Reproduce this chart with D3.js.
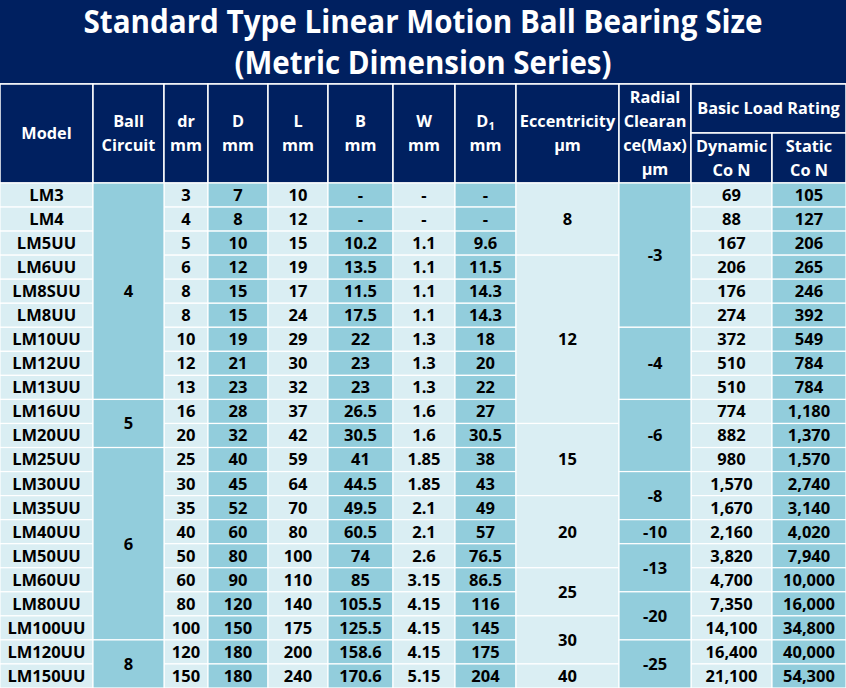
<!DOCTYPE html>
<html>
<head>
<meta charset="utf-8">
<script src="https://cdn.jsdelivr.net/npm/d3@7"></script>
<style>
  html, body { margin: 0; padding: 0; background: #fff; }
  svg { display: block; }
  text { font-family: "Open Sans", "Noto Sans", sans-serif; font-weight: 700; }
</style>
</head>
<body>
<div id="chart"></div>
<script>
// table data
var models = ["LM3","LM4","LM5UU","LM6UU","LM8SUU","LM8UU","LM10UU","LM12UU","LM13UU","LM16UU","LM20UU",
  "LM25UU","LM30UU","LM35UU","LM40UU","LM50UU","LM60UU","LM80UU","LM100UU","LM120UU","LM150UU"];
var dr = ["3","4","5","6","8","8","10","12","13","16","20","25","30","35","40","50","60","80","100","120","150"];
var outerD = ["7","8","10","12","15","15","19","21","23","28","32","40","45","52","60","80","90","120","150","180","180"];
var lengthL = ["10","12","15","19","17","24","29","30","32","37","42","59","64","70","80","100","110","140","175","200","240"];
var widthB = ["-","-","10.2","13.5","11.5","17.5","22","23","23","26.5","30.5","41","44.5","49.5","60.5","74","85","105.5","125.5","158.6","170.6"];
var widthW = ["-","-","1.1","1.1","1.1","1.1","1.3","1.3","1.3","1.6","1.6","1.85","1.85","2.1","2.1","2.6","3.15","4.15","4.15","4.15","5.15"];
var grooveD1 = ["-","-","9.6","11.5","14.3","14.3","18","20","22","27","30.5","38","43","49","57","76.5","86.5","116","145","175","204"];
var dynamicLoad = ["69","88","167","206","176","274","372","510","510","774","882","980","1,570","1,670","2,160","3,820","4,700","7,350","14,100","16,400","21,100"];
var staticLoad = ["105","127","206","265","246","392","549","784","784","1,180","1,370","1,570","2,740","3,140","4,020","7,940","10,000","16,000","34,800","40,000","54,300"];

// merged cells: [value, number of rows]
var ballCircuit = [["4", 9], ["5", 2], ["6", 8], ["8", 2]];
var eccentricity = [["8", 3], ["12", 7], ["15", 3], ["20", 3], ["25", 2], ["30", 2], ["40", 1]];
var radialClearance = [["-3", 6], ["-4", 3], ["-6", 3], ["-8", 2], ["-10", 1], ["-13", 2], ["-20", 2], ["-25", 2]];

var titleLines = ["Standard Type Linear Motion Ball Bearing Size", "(Metric Dimension Series)"];

// layout
var width = 846, height = 688;
var colEdges = [0, 93, 164, 208, 268, 328, 393, 455, 516, 619, 691, 772, 846];
var headTop = 84, headMid = 133, bodyTop = 183;
var navy = "#002060", light = "#daeef3", dark = "#92cddc";

var svg = d3.select("#chart").append("svg")
  .attr("width", width)
  .attr("height", height);

var y = d3.scaleLinear().domain([0, models.length]).range([bodyTop, height]);

// title band
svg.append("rect").attr("x", 0).attr("y", 0).attr("width", width).attr("height", bodyTop).attr("fill", navy);
svg.selectAll(".title").data(titleLines).enter().append("text")
  .attr("x", width / 2)
  .attr("y", (d, i) => 33 + i * 41)
  .attr("text-anchor", "middle")
  .attr("fill", "#fff")
  .attr("font-size", 32)
  .attr("textLength", (d, i) => i == 0 ? 679 : 377)
  .attr("lengthAdjust", "spacingAndGlyphs")
  .text(d => d);
svg.append("line").attr("x1", 0).attr("x2", width).attr("y1", headTop).attr("y2", headTop)
  .attr("stroke", "#fff").attr("stroke-width", 1.5);

// header cells
var headers = [
  { c0: 0, c1: 1, lines: ["Model"], y0: headTop, y1: bodyTop },
  { c0: 1, c1: 2, lines: ["Ball", "Circuit"], y0: headTop, y1: bodyTop },
  { c0: 2, c1: 3, lines: ["dr", "mm"], y0: headTop, y1: bodyTop },
  { c0: 3, c1: 4, lines: ["D", "mm"], y0: headTop, y1: bodyTop },
  { c0: 4, c1: 5, lines: ["L", "mm"], y0: headTop, y1: bodyTop },
  { c0: 5, c1: 6, lines: ["B", "mm"], y0: headTop, y1: bodyTop },
  { c0: 6, c1: 7, lines: ["W", "mm"], y0: headTop, y1: bodyTop },
  { c0: 7, c1: 8, lines: ["D1", "mm"], y0: headTop, y1: bodyTop },
  { c0: 8, c1: 9, lines: ["Eccentricity", "µm"], y0: headTop, y1: bodyTop },
  { c0: 9, c1: 10, lines: ["Radial", "Clearan", "ce(Max)", "µm"], y0: headTop, y1: bodyTop },
  { c0: 10, c1: 12, lines: ["Basic Load Rating"], y0: headTop, y1: headMid },
  { c0: 10, c1: 11, lines: ["Dynamic", "Co N"], y0: headMid, y1: bodyTop },
  { c0: 11, c1: 12, lines: ["Static", "Co N"], y0: headMid, y1: bodyTop }
];

var head = svg.selectAll(".head").data(headers).enter().append("g");
head.append("rect")
  .attr("x", d => colEdges[d.c0])
  .attr("y", d => d.y0)
  .attr("width", d => colEdges[d.c1] - colEdges[d.c0])
  .attr("height", d => d.y1 - d.y0)
  .attr("fill", navy)
  .attr("stroke", "#fff")
  .attr("stroke-width", 1.5);
head.each(function(d) {
  var g = d3.select(this);
  var cx = (colEdges[d.c0] + colEdges[d.c1]) / 2;
  var cy = (d.y0 + d.y1) / 2;
  d.lines.forEach((line, i) => {
    var t = g.append("text")
      .attr("x", cx)
      .attr("y", cy + (i - (d.lines.length - 1) / 2) * 24)
      .attr("dy", "0.36em")
      .attr("text-anchor", "middle")
      .attr("fill", "#fff")
      .attr("font-size", 16.3);
    if (line == "D1") {
      t.append("tspan").text("D");
      t.append("tspan").attr("font-size", 11).attr("dy", 3).text("1");
    } else {
      t.text(line);
    }
  });
});

// body cells: one entry per cell, simple columns first
var cells = [];
var simpleCols = [[0, models], [2, dr], [3, outerD], [4, lengthL], [5, widthB], [6, widthW], [7, grooveD1], [10, dynamicLoad], [11, staticLoad]];
simpleCols.forEach(([col, values]) => {
  values.forEach((v, i) => cells.push({ col: col, r0: i, r1: i + 1, text: v }));
});
[[1, ballCircuit], [8, eccentricity], [9, radialClearance]].forEach(([col, groups]) => {
  var r = 0;
  groups.forEach(([v, span]) => {
    cells.push({ col: col, r0: r, r1: r + span, text: v });
    r += span;
  });
});

var cell = svg.selectAll(".cell").data(cells).enter().append("g");
cell.append("rect")
  .attr("x", d => colEdges[d.col])
  .attr("y", d => y(d.r0))
  .attr("width", d => colEdges[d.col + 1] - colEdges[d.col])
  .attr("height", d => y(d.r1) - y(d.r0))
  .attr("fill", d => d.col % 2 == 0 ? light : dark)
  .attr("stroke", "#fff")
  .attr("stroke-width", 1.2);
cell.append("text")
  .attr("x", d => (colEdges[d.col] + colEdges[d.col + 1]) / 2)
  .attr("y", d => (y(d.r0) + y(d.r1)) / 2)
  .attr("dy", "0.36em")
  .attr("text-anchor", "middle")
  .attr("fill", "#000")
  .attr("font-size", 16.5)
  .text(d => d.text);
</script>
</body>
</html>
